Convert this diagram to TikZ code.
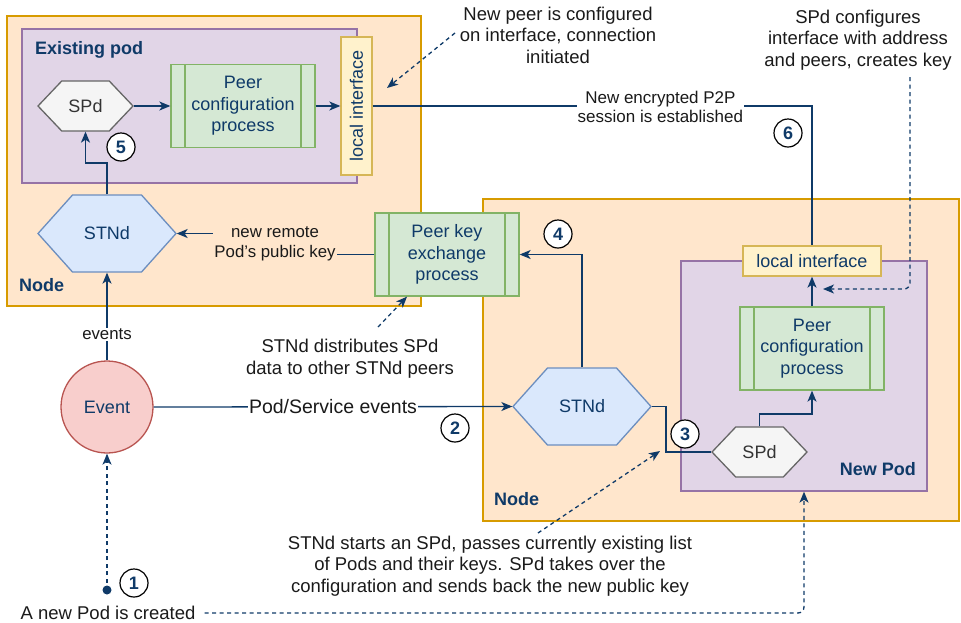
\documentclass[tikz,border=0pt]{standalone}
\usepackage{fontspec}
\setmainfont{Liberation Sans}
\usetikzlibrary{arrows.meta}

\definecolor{nodefill}{HTML}{FFE6CC}
\definecolor{nodedraw}{HTML}{D79B00}
\definecolor{podfill}{HTML}{E1D5E7}
\definecolor{poddraw}{HTML}{9673A6}
\definecolor{procfill}{HTML}{D5E8D4}
\definecolor{procdraw}{HTML}{82B366}
\definecolor{iffill}{HTML}{FFF2CC}
\definecolor{ifdraw}{HTML}{D6B656}
\definecolor{stnfill}{HTML}{DAE8FC}
\definecolor{stndraw}{HTML}{6C8EBF}
\definecolor{spdfill}{HTML}{F5F5F5}
\definecolor{spddraw}{HTML}{666666}
\definecolor{spdtext}{HTML}{333333}
\definecolor{evfill}{HTML}{F8CECC}
\definecolor{evdraw}{HTML}{B85450}
\definecolor{navy}{HTML}{0F3A68}
\definecolor{txt}{HTML}{1A1A1A}

\newcommand\ftxt{\fontsize{18}{21.5}\selectfont}
\newcommand\fnote{\fontsize{18.5}{21.5}\selectfont}
\newcommand\flab{\fontsize{16.8}{19.5}\selectfont}

% hexagon: style, name, centre x, centre y, width, height, text
\newcommand\hexnode[7]{%
  \path[#1] ({#3-#5/2},#4) -- ({#3-#5/4},{#4-#6/2}) -- ({#3+#5/4},{#4-#6/2})
    -- ({#3+#5/2},#4) -- ({#3+#5/4},{#4+#6/2}) -- ({#3-#5/4},{#4+#6/2}) -- cycle;
  \node[#1, draw=none, fill=none, hextext, minimum width=#5pt, minimum height=#6pt] (#2) at (#3,#4) {#7};}

\begin{document}
\begin{tikzpicture}[x=1pt, y=-1pt,
  nodebox/.style={draw=nodedraw, fill=nodefill, line width=1.3pt, inner sep=0pt},
  podbox/.style={draw=poddraw, fill=podfill, line width=1.3pt, inner sep=0pt},
  proc/.style={draw=procdraw, fill=procfill, line width=1.3pt, minimum width=144pt,
    minimum height=83pt, align=center, text=navy, font=\ftxt, inner sep=0pt,
    path picture={\draw[procdraw, line width=1.3pt]
      ([xshift=14pt]path picture bounding box.north west) -- ([xshift=14pt]path picture bounding box.south west)
      ([xshift=-14pt]path picture bounding box.north east) -- ([xshift=-14pt]path picture bounding box.south east);}},
  iface/.style={draw=ifdraw, fill=iffill, line width=1.3pt, text=navy, font=\ftxt, inner sep=0pt},
  hexstn/.style={draw=stndraw, fill=stnfill, line width=1.3pt, text=navy},
  hexspd/.style={draw=spddraw, fill=spdfill, line width=1.3pt, text=spdtext},
  hextext/.style={inner sep=0pt, font=\ftxt},
  event/.style={circle, draw=evdraw, fill=evfill, line width=1.3pt, minimum size=92pt,
    text=navy, font=\ftxt, inner sep=0pt},
  num/.style={circle, draw=black, fill=white, line width=1.2pt, minimum size=28pt,
    inner sep=0pt, font=\ftxt\bfseries, text=navy},
  title/.style={font=\ftxt\bfseries, text=navy, inner sep=0pt},
  note/.style={font=\fnote, text=txt, align=center, inner sep=0pt},
  elabel/.style={font=\flab, text=txt, align=center, inner sep=1pt, fill=white},
  wire/.style={draw=navy, line width=1.3pt},
  arr/.style={wire, -{Stealth[length=11pt, width=9pt, inset=3pt]}},
  dashwire/.style={draw=navy, line width=1.3pt, dash pattern=on 4pt off 3.5pt},
  darr/.style={dashwire, -{Stealth[length=11pt, width=9pt, inset=3pt]}}
]
\useasboundingbox (0,0) rectangle (961,622);

% containers
\node[nodebox, minimum width=414pt, minimum height=290pt] (nodeL) at (214,161) {};
\node[nodebox, minimum width=476pt, minimum height=322pt] (nodeR) at (721,360) {};
\node[podbox, minimum width=335pt, minimum height=154pt] (podL) at (189.5,106) {};
\node[podbox, minimum width=246pt, minimum height=230pt] (podN) at (804,376) {};

\node[title, anchor=west] (tEx) at (35,50) {Existing pod};
\node[title, anchor=west] (tNodeL) at (19,285) {Node};
\node[title, anchor=west] (tNodeR) at (494,499) {Node};
\node[title, anchor=east] (tNewPod) at (916,469) {New Pod};

% daemons
\hexnode{hexspd}{spdL}{85.5}{106}{95}{50}{SPd}
\hexnode{hexstn}{stnL}{107}{233.5}{138}{77}{STNd}
\hexnode{hexstn}{stnN}{582}{406.5}{138}{77}{STNd}
\hexnode{hexspd}{spdN}{759.5}{452}{95}{50}{SPd}

% processes and interfaces
\node[proc] (pcL) at (243,106) {Peer\\configuration\\process};
\node[proc] (pke) at (447,254.5) {Peer key\\exchange\\process};
\node[proc] (pcN) at (812,348.5) {Peer\\configuration\\process};
\node[iface, rotate=90, minimum width=138pt, minimum height=31pt] (ifL) at (356.5,106) {local interface};
\node[iface, minimum width=138pt, minimum height=30pt] (ifN) at (812,261) {local interface};

\node[event] (ev) at (107,407) {Event};

% solid connectors
\draw[arr] (spdL.east) -- (pcL.west);
\draw[arr] (pcL.east) -- (ifL.north);
\draw[arr] (stnL.north) -- (107,163) -| (spdL.south);
\draw[arr] (pke.west) -- (275,254.5) -- node[elabel, fill=nodefill] {new remote\\Pod's public key} (275,233.5) -- (stnL.east);
\draw[arr] (ev.north) -- node[elabel, pos=0.3] {events} (stnL.south);
\draw[arr] (ev.east) -- node[elabel, font=\fontsize{19.5}{22}\selectfont] {Pod/Service events} (stnN.west);
\draw[wire] (stnN.east) -- (666,406.5) |- (spdN.west);
\draw[arr] (stnN.north) |- (pke.east);
\draw[arr] (spdN.north) -- (759.5,414) -| (pcN.south);
\draw[arr] (pcN.north) -- (ifN.south);
\draw[wire] (ifL.south) -- node[elabel, pos=0.655, yshift=-1pt, font=\fontsize{17}{19.5}\selectfont] {New encrypted P2P\\session is established} (812,106) -- (ifN.north);

% annotations
\node[note] (noteCfg) at (558,35) {New peer is configured\\on interface, connection\\initiated};
\node[note] (noteSPd) at (858,40) {SPd configures\\interface with address\\and peers, creates key};
\node[note] (noteDist) at (350,358.5) {STNd distributes SPd\\data to other STNd peers};
\node[note] (noteStart) at (490,566) {STNd starts an SPd, passes currently existing list\\of Pods and their keys. SPd takes over the\\configuration and sends back the new public key};
\node[note] (noteNew) at (108,613) {A new Pod is created};

% dashed connectors
\coordinate (p1) at (107,590);
\fill[navy] (p1) circle (4.5pt);
\draw[darr] (p1) -- (ev.south);
\draw[darr, rounded corners=6pt] ([xshift=9pt]noteNew.east) -| (podN.south);
\coordinate (startA) at (538,533);
\coordinate (startB) at (660,451);
\draw[darr] (startA) -- (startB);
\coordinate (distA) at (378,327);
\draw[darr] (distA) -- ([xshift=-40pt]pke.south);
\coordinate (cfgA) at (455,33);
\coordinate (cfgB) at (387,88);
\draw[darr] (cfgA) -- (cfgB);
\coordinate (spdA) at (910,77);
\coordinate (spdB) at (823,289);
\draw[darr, rounded corners=6pt] (spdA) |- (spdB);

% step numbers
\node[num] (n1) at (134,583) {1};
\node[num] (n2) at (455,428) {2};
\node[num] (n3) at (685,434) {3};
\node[num] (n4) at (558,234) {4};
\node[num] (n5) at (121,147) {5};
\node[num] (n6) at (788,133) {6};
\end{tikzpicture}
\end{document}
